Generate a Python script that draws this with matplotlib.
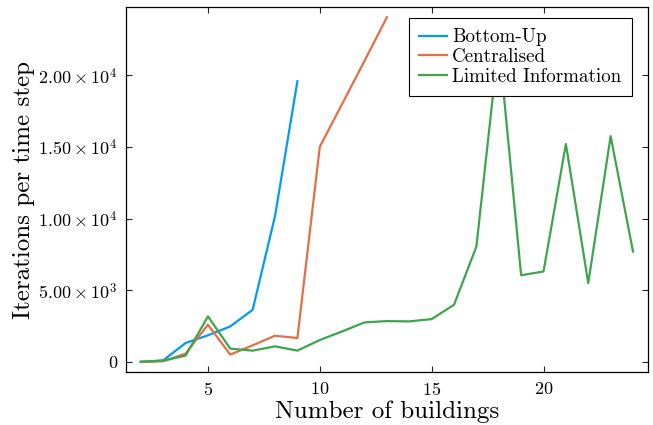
import matplotlib
matplotlib.use("Agg")
import matplotlib.pyplot as plt
from matplotlib.ticker import FuncFormatter

plt.rcParams['font.family'] = ['cmr10', 'DejaVu Serif']
plt.rcParams['mathtext.fontset'] = 'cm'
plt.rcParams['axes.formatter.use_mathtext'] = True

buildings_bu = [2, 3, 4, 5, 6, 7, 8, 9]
bottom_up = [0, 110, 1320, 1860, 2480, 3640, 10180, 19580]

buildings_c = [2, 3, 4, 5, 6, 7, 8, 9, 10, 11, 12, 13]
centralised = [0, 50, 580, 2600, 510, 1160, 1830, 1670, 15010, 18000, 21000, 24040]

buildings_li = list(range(2, 25))
limited = [20, 90, 440, 3180, 930, 790, 1090, 790, 1530, 2130, 2760, 2850,
           2830, 2990, 3990, 8050, 22300, 6050, 6310, 15200, 5500, 15750, 7700]

y_ticks = [0, 5000, 10000, 15000, 20000]
x_ticks = [5, 10, 15, 20]


def sci(v, pos):
    if v == 0:
        return '0'
    exp = len(str(int(v))) - 1
    return r'$%.2f\times10^{%d}$' % (v / 10**exp, exp)


fig = plt.figure(figsize=(6.53, 4.25), dpi=100)
ax = fig.add_axes([0.193, 0.1247, 0.799, 0.8588])
ax.plot(buildings_bu, bottom_up, color='#009AFA', lw=1.6, label='Bottom-Up')
ax.plot(buildings_c, centralised, color='#E36F47', lw=1.6, label='Centralised')
ax.plot(buildings_li, limited, color='#3EA44E', lw=1.6, label='Limited Information')

ax.set_xlim(1.34, 24.66)
ax.set_ylim(-700, 24756)
ax.set_xticks(x_ticks)
ax.set_yticks(y_ticks)
ax.yaxis.set_major_formatter(FuncFormatter(sci))
ax.tick_params(direction='in', length=4, width=0.8, labelsize=13, pad=6.5,
               top=True, right=True, colors='#222222', labelcolor='black')
for s in ax.spines.values():
    s.set_linewidth(0.9)
ax.set_xlabel('Number of buildings', fontsize=18, labelpad=2)
ax.set_ylabel('Iterations per time step', fontsize=18, labelpad=2)

leg = ax.legend(loc='upper right', bbox_to_anchor=(0.969, 0.970),
                fontsize=13.7, frameon=True, fancybox=False,
                framealpha=1, edgecolor='black', handlelength=1.5,
                borderaxespad=0, borderpad=0.54, labelspacing=0.1,
                handletextpad=0.25)
leg.get_frame().set_linewidth(0.8)

fig.savefig('out.png', dpi=100)
